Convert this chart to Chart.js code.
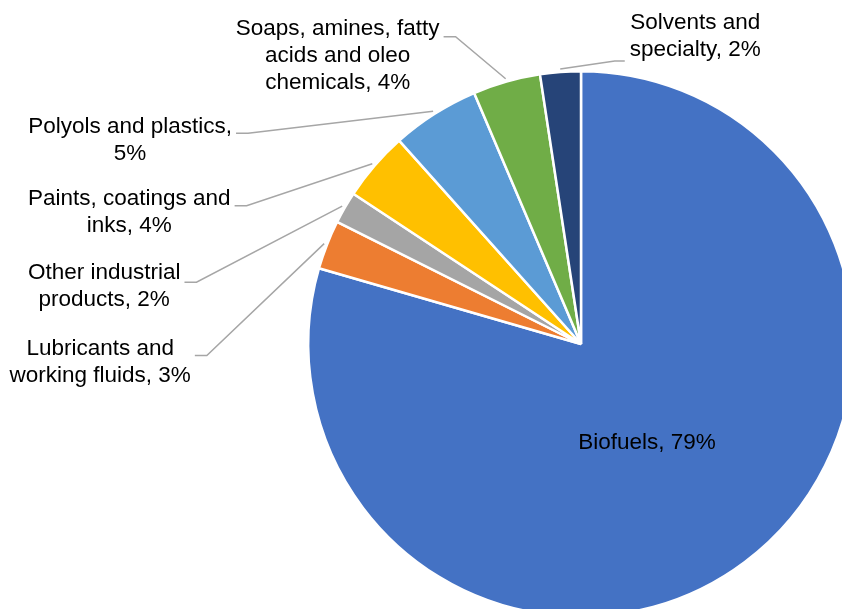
<!DOCTYPE html>
<html>
<head>
<meta charset="utf-8">
<script src="https://cdn.jsdelivr.net/npm/chart.js@4/dist/chart.umd.min.js"></script>
<style>
  html, body { margin: 0; padding: 0; width: 842px; height: 609px; overflow: hidden; background: #ffffff; }
  #wrap { position: absolute; left: 0; top: 0; width: 1162px; height: 688px; }
</style>
</head>
<body>
<div id="wrap"><canvas id="c" width="1162" height="688"></canvas></div>
<script>
// ---- data ----
const categories = [
  "Biofuels",
  "Lubricants and working fluids",
  "Other industrial products",
  "Paints, coatings and inks",
  "Polyols and plastics",
  "Soaps, amines, fatty acids and oleo chemicals",
  "Solvents and specialty"
];
const values = [79.4, 2.9, 1.9, 4.1, 5.2, 4.0, 2.4];
const colors = ["#4472C4", "#ED7D31", "#A5A5A5", "#FFC000", "#5B9BD5", "#70AD47", "#264478"];

// ---- label layout (positions / wrapping, not data) ----
const wordsPerLine = [[2], [2, 3], [2, 2], [3, 2], [3, 1], [3, 3, 2], [2, 2]];
// inside label: offset from pie centre; outside labels: offset from leader point on the rim
const labelOffsets = [[66, 99], [-224, 105], [-238, 67], [-243, 35], [-303, 16], [-168, -50], [135, -46]];
// leader side of text: 'right' = leader leaves from right edge of text, 'left' = from left edge
const leaderSide = [null, 'right', 'right', 'right', 'right', 'right', 'left'];
const leaderDy = [null, 7, 9, 7, 6, 8, 38];

const FONT_SIZE = 22.5;
const LINE_H = 27;
const FONT = FONT_SIZE + "px 'Liberation Sans', Arial, sans-serif";

const labelPlugin = {
  id: 'outLabels',
  afterDatasetsDraw(chart) {
    const ctx = chart.ctx;
    const meta = chart.getDatasetMeta(0);
    const total = values.reduce((a, b) => a + b, 0);
    ctx.save();
    ctx.font = FONT;
    ctx.fillStyle = "#000000";
    ctx.textBaseline = "middle";
    ctx.textAlign = "center";
    meta.data.forEach((arc, i) => {
      const p = arc.getProps(['x', 'y', 'startAngle', 'endAngle', 'outerRadius'], true);
      const mid = (p.startAngle + p.endAngle) / 2;
      const pct = Math.round(values[i] / total * 100) + "%";
      const words = (categories[i] + ", " + pct).split(" ");
      const lines = [];
      let k = 0;
      wordsPerLine[i].forEach(n => { lines.push(words.slice(k, k + n).join(" ")); k += n; });
      let tx, ty;
      if (i === 0) {
        tx = p.x + labelOffsets[i][0];
        ty = p.y + labelOffsets[i][1];
      } else {
        const lr = p.outerRadius + 3;
        const px = p.x + lr * Math.cos(mid);
        const py = p.y + lr * Math.sin(mid);
        tx = px + labelOffsets[i][0];
        ty = py + labelOffsets[i][1];
        const maxW = Math.max(...lines.map(l => ctx.measureText(l).width));
        const ly = ty + leaderDy[i];
        let ex, elx;
        if (leaderSide[i] === 'right') { ex = tx + maxW / 2 + 4; elx = ex + 12; }
        else { ex = tx - maxW / 2 - 5; elx = ex - 10; }
        ctx.beginPath();
        ctx.strokeStyle = "#A6A6A6";
        ctx.lineWidth = 1.5;
        ctx.moveTo(ex, ly);
        ctx.lineTo(elx, ly);
        ctx.lineTo(px, py);
        ctx.stroke();
      }
      lines.forEach((l, j) => ctx.fillText(l, tx, ty + j * LINE_H));
    });
    ctx.restore();
  }
};

new Chart(document.getElementById('c'), {
  type: 'pie',
  data: {
    labels: categories,
    datasets: [{
      data: values,
      backgroundColor: colors,
      borderColor: "#ffffff",
      borderWidth: 2.5
    }]
  },
  options: {
    responsive: false,
    animation: false,
    layout: { padding: { top: 70, bottom: 70, left: 0, right: 0 } },
    plugins: { legend: { display: false }, tooltip: { enabled: false } }
  },
  plugins: [labelPlugin]
});
</script>
</body>
</html>
